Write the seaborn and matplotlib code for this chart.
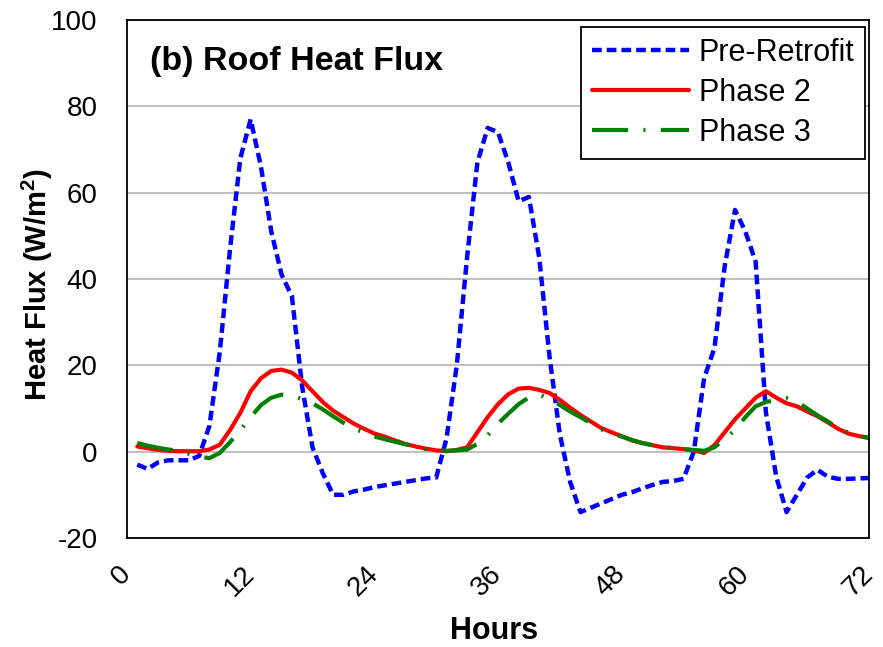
import numpy as np
import pandas as pd
import matplotlib
matplotlib.use("Agg")
import matplotlib.pyplot as plt
import seaborn as sns

# hourly values (W/m2)
hours = list(range(1, 73))

pre_retrofit = [
    -3, -4, -2.5, -2, -2, -2, -1, 6, 23, 47,
    68, 77, 66, 51, 41, 36, 15, 1, -5, -10,
    -10, -9.2, -8.8, -8.2, -7.8, -7.4, -7, -6.6, -6.2, -6,
    3, 20, 45, 67, 75, 74, 67, 58, 59, 45,
    22, 4, -7, -14, -13, -12, -11, -10, -9.4, -8.5,
    -7.7, -7, -6.8, -6.3, 0, 17, 24, 43, 56, 51,
    44, 9, -5.8, -14, -10, -6, -4.2, -5.8, -6.3, -6.3,
    -6.2, -6.1,
]

phase2 = [
    1.2, 0.8, 0.4, 0.2, 0.1, 0.1, 0.1, 0.5, 1.6, 5,
    9, 14, 17, 18.7, 19, 18.3, 16.5, 14, 11.5, 9.5,
    8, 6.5, 5.3, 4.2, 3.5, 2.6, 1.8, 1.2, 0.7, 0.3,
    0.1, 0.4, 1.0, 4.5, 8, 11, 13.3, 14.6, 14.8, 14.3,
    13.6, 12, 10.2, 8.5, 7, 5.5, 4.5, 3.6, 2.6, 2.0,
    1.5, 1.0, 0.8, 0.6, 0.3, -0.3, 1.5, 4.5, 7.5, 10,
    12.5, 14, 12.5, 11.2, 10.5, 9.3, 8.2, 6.8, 5.3, 4.2,
    3.6, 3.2,
]

phase3 = [
    2.0, 1.4, 0.9, 0.5, 0.2, -0.5, -1.2, -1.5, -0.3, 2.2,
    5, 8, 10.8, 12.5, 13.2, 12.9, 12.2, 11.2, 9.8, 8.2,
    6.7, 5.3, 4.5, 3.5, 2.9, 2.3, 1.7, 1.2, 0.6, 0.3,
    0.2, 0.3, 0.5, 1.8, 3.8, 6.5, 8.8, 11, 12.6, 13.2,
    12.2, 10.8, 9.3, 8, 6.6, 5.2, 4.3, 3.5, 2.7, 2.0,
    1.5, 1.1, 0.8, 0.6, 0.4, 0.2, 1.0, 3, 5, 8,
    10.5, 11.5, 12.0, 12.4, 11.6, 10, 8.4, 7, 5.5, 4.4,
    3.6, 3.2,
]

series_names = ["Pre-Retrofit", "Phase 2", "Phase 3"]
x_ticks = [0, 12, 24, 36, 48, 60, 72]
y_ticks = [-20, 0, 20, 40, 60, 80, 100]

df = pd.DataFrame({"Hours": hours, "Pre-Retrofit": pre_retrofit,
                   "Phase 2": phase2, "Phase 3": phase3})
long_df = df.melt(id_vars="Hours", var_name="series", value_name="flux")

sns.set_style("white")
plt.rcParams["font.family"] = ["Liberation Sans", "DejaVu Sans"]
plt.rcParams["lines.scale_dashes"] = False
plt.rcParams["axes.unicode_minus"] = False
plt.rcParams["text.color"] = "black"
plt.rcParams["axes.labelcolor"] = "black"
plt.rcParams["mathtext.fontset"] = "custom"
plt.rcParams["mathtext.bf"] = "Liberation Sans:bold"
plt.rcParams["mathtext.rm"] = "Liberation Sans"

fig = plt.figure(figsize=(8.83, 6.47), dpi=100)
ax = fig.add_axes([127 / 883, 1 - 538 / 647, 742 / 883, 518 / 647])

styles = {
    "Pre-Retrofit": dict(color="#0000ff", lw=3.2, dashes=(7, 3.6)),
    "Phase 2": dict(color="#ff0000", lw=3.0, dashes=None),
    "Phase 3": dict(color="#008000", lw=3.0, dashes=(26, 11, 1.5, 11)),
}

for name in series_names:
    st = styles[name]
    sub = long_df[long_df["series"] == name]
    sns.lineplot(data=sub, x="Hours", y="flux", ax=ax, color=st["color"],
                 linewidth=st["lw"], label=name)
    line = ax.get_lines()[-1]
    line.set_solid_joinstyle("round")
    line.set_dash_joinstyle("round")
    if st["dashes"] is not None:
        line.set_dashes(st["dashes"])
        line.set_dash_capstyle("butt")

ax.set_xlim(0, 72)
ax.set_ylim(-20, 100)
ax.set_xticks(x_ticks)
ax.set_yticks(y_ticks)
ax.yaxis.grid(True, color="#c0c0c0", linewidth=1.5)
ax.set_axisbelow(True)

for sp in ax.spines.values():
    sp.set_color("black")
    sp.set_linewidth(1.3)

ax.tick_params(axis="x", direction="inout", length=14, width=1.2,
               labelsize=20, pad=16, colors="black")
ax.tick_params(axis="y", direction="out", length=8, width=1.2,
               labelsize=20, pad=13, colors="black")
plt.setp(ax.get_xticklabels(), rotation=45, ha="right", va="center",
         rotation_mode="anchor")

ax.set_xlabel("Hours", fontsize=22, fontweight="bold", color="black")
ax.set_ylabel("Heat Flux (W/m$\\mathbf{^2}$)", fontsize=21,
              fontweight="bold", color="black")
ax.xaxis.set_label_coords(0.495, -0.151)
ax.yaxis.set_label_coords(-0.097, 0.49)

ax.text(0.031, 0.919, "(b) Roof Heat Flux", transform=ax.transAxes,
        fontsize=24.5, fontweight="bold", ha="left", va="center",
        color="black")

leg = ax.legend(loc="upper right", bbox_to_anchor=(0.9946, 0.9865),
                fontsize=22, frameon=True, fancybox=False,
                handlelength=3.2, handletextpad=0.3, labelspacing=0.33,
                borderpad=0.35, borderaxespad=0, labelcolor="black")
leg.get_frame().set_edgecolor("black")
leg.get_frame().set_linewidth(1.3)
leg.get_frame().set_alpha(1)

fig.savefig("out.png", dpi=100)
